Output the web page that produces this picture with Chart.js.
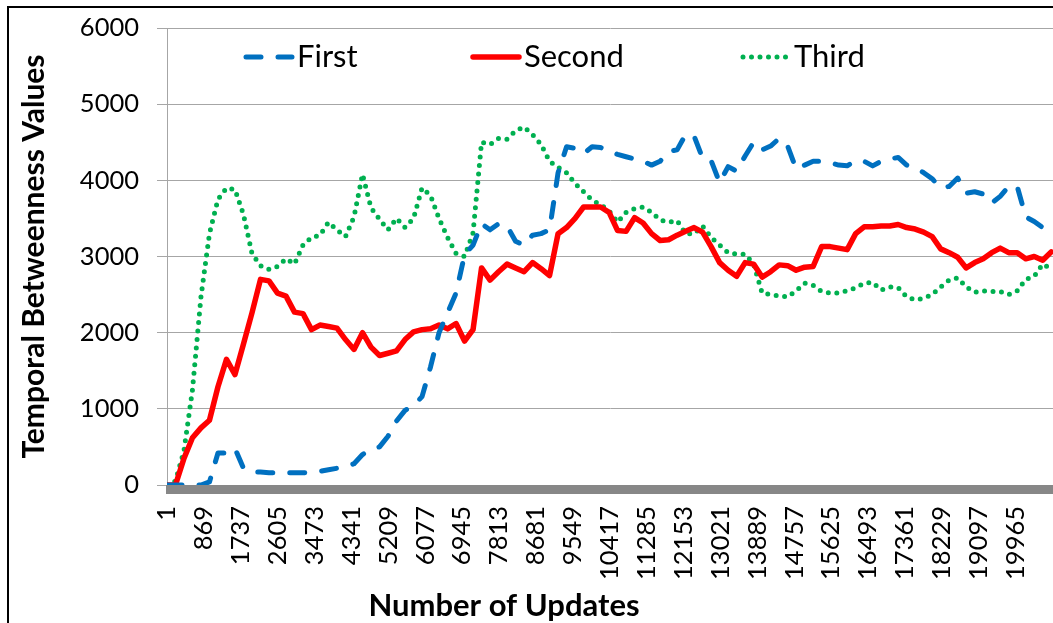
<!DOCTYPE html>
<html><head><meta charset="utf-8">
<script src="https://cdn.jsdelivr.net/npm/chart.js@4.4.0/dist/chart.umd.min.js"></script>
<style>
html,body{margin:0;padding:0;background:#fff;overflow:hidden;width:1053px;height:623px;}
#wrap{position:relative;width:1053px;height:623px;overflow:hidden;}
#frame{position:absolute;left:7px;top:6px;width:1100px;height:700px;border:2px solid #000;pointer-events:none;}
canvas{position:absolute;left:0;top:0;}
</style></head><body>
<div id="wrap"><canvas id="c" width="1053" height="623"></canvas><div id="frame"></div></div>
<script>
const updates = [1,200,400,600,800,1000,1200,1400,1600,1800,2000,2200,2400,2600,2800,3000,3200,3400,3600,3800,
 4000,4200,4400,4600,4800,5000,5200,5400,5600,5800,6000,6200,6400,6600,6800,7000,7200,7400,7600,7800,
 8000,8200,8400,8600,8800,9000,9200,9400,9600,9800,10000,10200,10400,10600,10800,11000,11200,11400,11600,11800,
 12000,12200,12400,12600,12800,13000,13200,13400,13600,13800,14000,14200,14400,14600,14800,15000,15200,15400,15600,15800,
 16000,16200,16400,16600,16800,17000,17200,17400,17600,17800,18000,18200,18400,18600,18800,19000,19200,19400,19600,19800,
 20000,20200,20400,20600,20800];
const first = [0,0,0,0,0,40,420,420,480,220,170,170,160,160,160,160,160,170,180,200,
 220,240,280,400,470,500,640,840,980,1040,1160,1550,2000,2260,2520,3020,3150,3430,3350,3430,
 3400,3200,3150,3280,3300,3350,4100,4440,4420,4350,4440,4430,4380,4340,4310,4280,4250,4200,4250,4380,
 4400,4600,4580,4290,4260,3970,4180,4120,4320,4500,4400,4450,4550,4450,4150,4200,4250,4250,4230,4200,
 4190,4260,4250,4190,4250,4280,4300,4200,4170,4100,4020,3900,3920,4030,3830,3850,3820,3700,3790,3920,
 3920,3520,3460,3380,3420];
const second = [0,0,350,620,750,850,1290,1650,1450,1850,2260,2700,2680,2520,2480,2270,2250,2040,2100,2080,
 2060,1910,1780,2000,1810,1700,1730,1760,1910,2010,2040,2050,2100,2050,2120,1890,2040,2850,2690,2800,
 2900,2850,2800,2920,2840,2750,3300,3380,3500,3650,3650,3650,3580,3340,3330,3510,3440,3300,3210,3220,
 3280,3330,3380,3320,3130,2920,2820,2740,2920,2900,2730,2800,2890,2880,2820,2860,2870,3130,3130,3110,
 3090,3300,3390,3390,3400,3400,3420,3380,3360,3320,3260,3100,3050,2990,2850,2920,2970,3050,3110,3050,
 3050,2970,3000,2950,3060];
const third = [0,50,450,1250,2470,3300,3750,3900,3880,3550,3040,2880,2830,2870,2970,2900,3150,3250,3280,3450,
 3350,3260,3520,4080,3640,3490,3350,3500,3380,3500,3900,3800,3500,3250,3040,3000,3310,4500,4470,4550,
 4540,4650,4700,4600,4470,4250,4170,4100,3960,3850,3740,3680,3600,3450,3580,3630,3650,3580,3480,3450,
 3470,3300,3300,3400,3250,3150,3050,3030,3030,2900,2520,2500,2480,2470,2550,2650,2620,2540,2520,2520,
 2550,2590,2650,2660,2560,2600,2590,2470,2430,2450,2500,2600,2690,2720,2600,2530,2550,2540,2540,2500,
 2550,2700,2740,2900,2840];
const seriesNames = ['First','Second','Third'];
const xTickLabels = [1,869,1737,2605,3473,4341,5209,6077,6945,7813,8681,9549,10417,11285,12153,13021,13889,14757,15625,16493,17361,18229,19097,19965];
const yTickLabels = [0,1000,2000,3000,4000,5000,6000];
const xTitle = 'Number of Updates';
const yTitle = 'Temporal Betweenness Values';

const FONT = 'Lato';
const toPts = arr => updates.map((u, i) => ({x: u, y: arr[i]}));

const axisBar = {
  id: 'axisBar',
  beforeDatasetsDraw(chart) {
    const {ctx, chartArea} = chart;
    ctx.save();
    ctx.fillStyle = '#878787';
    ctx.fillRect(chartArea.left - 1, chartArea.bottom, chartArea.right - chartArea.left + 1, 9);
    ctx.restore();
  }
};
const inlineLegend = {
  id: 'inlineLegend',
  afterDraw(chart) {
    const ctx = chart.ctx;
    const starts = [243, 470, 740];
    const y = 57;
    ctx.save();
    chart.data.datasets.forEach((ds, i) => {
      ctx.strokeStyle = ds.borderColor;
      ctx.lineWidth = ds.borderWidth;
      ctx.lineCap = ds.borderCapStyle;
      ctx.setLineDash(ds.borderDash || []);
      ctx.beginPath();
      ctx.moveTo(starts[i] + 3, y);
      ctx.lineTo(starts[i] + 49, y);
      ctx.stroke();
      ctx.setLineDash([]);
      ctx.fillStyle = '#000';
      ctx.font = '31px ' + FONT;
      ctx.textBaseline = 'middle';
      ctx.textAlign = 'left';
      ctx.fillText(ds.label, starts[i] + 54, y);
    });
    ctx.restore();
  }
};
const xTitlePlugin = {
  id: 'xTitlePlugin',
  afterDraw(chart) {
    const ctx = chart.ctx;
    ctx.save();
    ctx.fillStyle = '#000';
    ctx.font = 'bold 31px ' + FONT;
    ctx.textAlign = 'center';
    ctx.textBaseline = 'middle';
    ctx.fillText(xTitle, 504, 606);
    ctx.restore();
  }
};

new Chart(document.getElementById('c'), {
  type: 'line',
  data: {
    datasets: [
      {label: seriesNames[0], data: toPts(first), borderColor: '#0070c0', borderWidth: 5, borderDash: [15, 17], borderCapStyle: 'round', borderJoinStyle: 'round', pointRadius: 0, tension: 0, fill: false},
      {label: seriesNames[1], data: toPts(second), borderColor: '#ff0000', borderWidth: 5.5, borderCapStyle: 'round', borderJoinStyle: 'round', pointRadius: 0, tension: 0, fill: false},
      {label: seriesNames[2], data: toPts(third), borderColor: '#00b050', borderWidth: 5, borderDash: [0, 8.5], borderCapStyle: 'round', borderJoinStyle: 'round', pointRadius: 0, tension: 0, fill: false}
    ]
  },
  options: {
    responsive: false,
    animation: false,
    events: [],
    layout: {padding: {left: 0, top: 28, right: 0, bottom: 0}},
    plugins: {legend: {display: false}, tooltip: {enabled: false}, title: {display: false}},
    scales: {
      x: {
        type: 'linear',
        min: 1,
        max: 20842,
        afterBuildTicks(scale) { scale.ticks = xTickLabels.map(v => ({value: v})); },
        afterFit(scale) { scale.height = 138; scale.paddingLeft = 0; scale.paddingRight = 0; },
        grid: {display: false, drawTicks: false},
        border: {display: false},
        ticks: {
          autoSkip: false, maxRotation: 90, minRotation: 90, padding: 21,
          color: '#000', font: {family: FONT, size: 25.5},
          callback: v => String(v)
        }
      },
      y: {
        min: 0, max: 6000,
        afterBuildTicks(scale) { scale.ticks = yTickLabels.map(v => ({value: v})); },
        afterFit(scale) { scale.width = 167; scale.paddingTop = 0; scale.paddingBottom = 0; },
        grid: {color: '#a6a6a6', lineWidth: 1, tickLength: 10},
        border: {display: true, color: '#a6a6a6', width: 1},
        ticks: {color: '#000', font: {family: FONT, size: 25.5}, padding: 18, callback: v => String(v)},
        title: {display: true, text: yTitle, color: '#000', font: {family: FONT, size: 30, weight: 'bold'}, padding: {top: 16, bottom: 0}}
      }
    }
  },
  plugins: [axisBar, inlineLegend, xTitlePlugin]
});
</script>
</body></html>
